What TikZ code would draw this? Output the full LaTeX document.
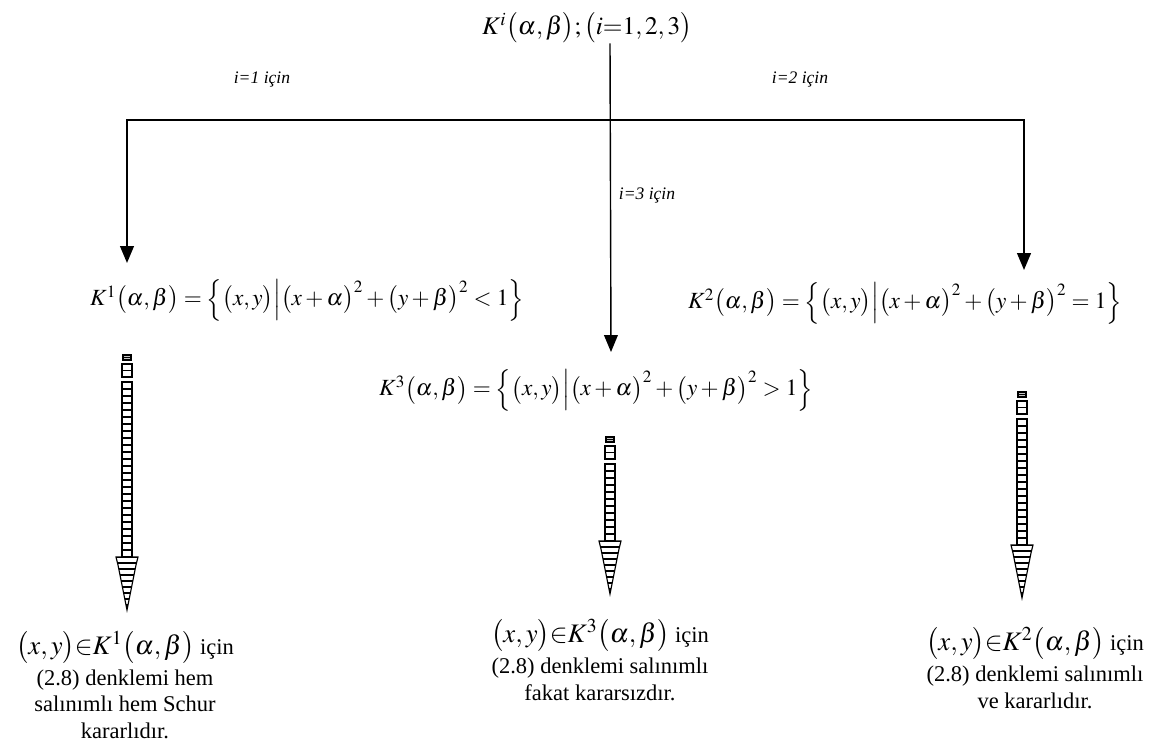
\documentclass[tikz,border=0pt]{standalone}
\usepackage{mathptmx}
\usepackage{fontspec}
\setmainfont{Liberation Serif}
\usetikzlibrary{positioning, arrows.meta}

\tikzset{
  hatch/.style={line width=0.8pt, draw=black},
  pics/hatcharrow/.style={code={
    % small boxes on top
    \draw[hatch, fill=gray!45] (-4,0) rectangle (4,5);
    \draw[hatch] (-4,2.5) -- (4,2.5);
    \draw[hatch] (-5,9) rectangle (5,22);
    \draw[hatch] (-5,15.5) -- (5,15.5);
    % shaft
    \draw[hatch] (-5,27) rectangle (5,27+7*#1);
    \foreach \k in {1,...,#1} {\draw[hatch] (-5,27+7*\k-7) -- (5,27+7*\k-7);}
    % head
    \begin{scope}
      \clip (-11,27+7*#1) -- (11,27+7*#1) -- (9,35+7*#1) -- (0,80+7*#1) -- (-9,35+7*#1) -- cycle;
      \foreach \k in {0,...,8} {\draw[hatch] (-12,27+7*#1+6*\k) -- (12,27+7*#1+6*\k);}
    \end{scope}
    \draw[hatch] (-11,27+7*#1) -- (11,27+7*#1) -- (9,35+7*#1) -- (0,80+7*#1) -- (-9,35+7*#1) -- cycle;
  }},
}

\begin{document}
\begin{tikzpicture}[
    x=0.025cm, y=-0.025cm,
    >={Triangle[length=4.2mm, width=3.4mm]},
    every node/.style={inner sep=1pt},
    title/.style={font=\fontsize{18}{22}\selectfont, inner sep=0pt},
    case/.style={font=\fontsize{12.5}{15}\selectfont\itshape},
    formula/.style={font=\fontsize{16.5}{19}\selectfont},
    result/.style={align=center, font=\fontsize{16}{19}\selectfont},
    branch/.style={->, line width=1.4pt},
    stem/.style={->, line width=1pt},
]
\useasboundingbox (0,0) rectangle (1164,756);

% Nodes
\node[title] (top) at (587,28)
  {$K^{i}\bigl(\alpha,\beta\bigr);\bigl(i{=}1,2,3\bigr)$};

\node[case] (c1) at (262,80)  {i=1 için};
\node[case] (c2) at (800,80)  {i=2 için};
\node[case] (c3) at (647,196) {i=3 için};

\node[formula] (f1) at (307,300)
  {$K^{1}\bigl(\alpha,\beta\bigr)=\Bigl\{\bigl(x,y\bigr)\Big|\bigl(x+\alpha\bigr)^{2}+\bigl(y+\beta\bigr)^{2}<1\Bigr\}$};
\node[formula] (f2) at (905,303)
  {$K^{2}\bigl(\alpha,\beta\bigr)=\Bigl\{\bigl(x,y\bigr)\Big|\bigl(x+\alpha\bigr)^{2}+\bigl(y+\beta\bigr)^{2}=1\Bigr\}$};
\node[formula] (f3) at (596,390)
  {$K^{3}\bigl(\alpha,\beta\bigr)=\Bigl\{\bigl(x,y\bigr)\Big|\bigl(x+\alpha\bigr)^{2}+\bigl(y+\beta\bigr)^{2}>1\Bigr\}$};

\node[result] (r1) at (125,685)
  {{\fontsize{19}{22}\selectfont$\bigl(x,y\bigr){\in}K^{1}\bigl(\alpha,\beta\bigr)$} için\\[3pt]
   (2.8) denklemi hem\\ salınımlı hem Schur\\ kararlıdır.};
\node[result] (r3) at (600,660)
  {{\fontsize{19}{22}\selectfont$\bigl(x,y\bigr){\in}K^{3}\bigl(\alpha,\beta\bigr)$} için\\[3pt]
   (2.8) denklemi salınımlı\\ fakat kararsızdır.};
\node[result] (r2) at (1035,668)
  {{\fontsize{19}{22}\selectfont$\bigl(x,y\bigr){\in}K^{2}\bigl(\alpha,\beta\bigr)$} için\\[3pt]
   (2.8) denklemi salınımlı\\ ve kararlıdır.};

% Branch points
\coordinate (split) at (610,120);
\coordinate (tip1) at (127,263);
\coordinate (tip2) at (1024,270);
\coordinate (tip3) at (611,352);

% Edges
\draw[stem] (split |- top.south) -- (tip3);
\draw[branch] (split) -| (tip1);
\draw[branch] (split) -| (tip2);

% Hatched arrows
\pic at (127,355) {hatcharrow=25};
\pic at (610,437) {hatcharrow=11};
\pic at (1022,392) {hatcharrow=18};

\end{tikzpicture}
\end{document}
